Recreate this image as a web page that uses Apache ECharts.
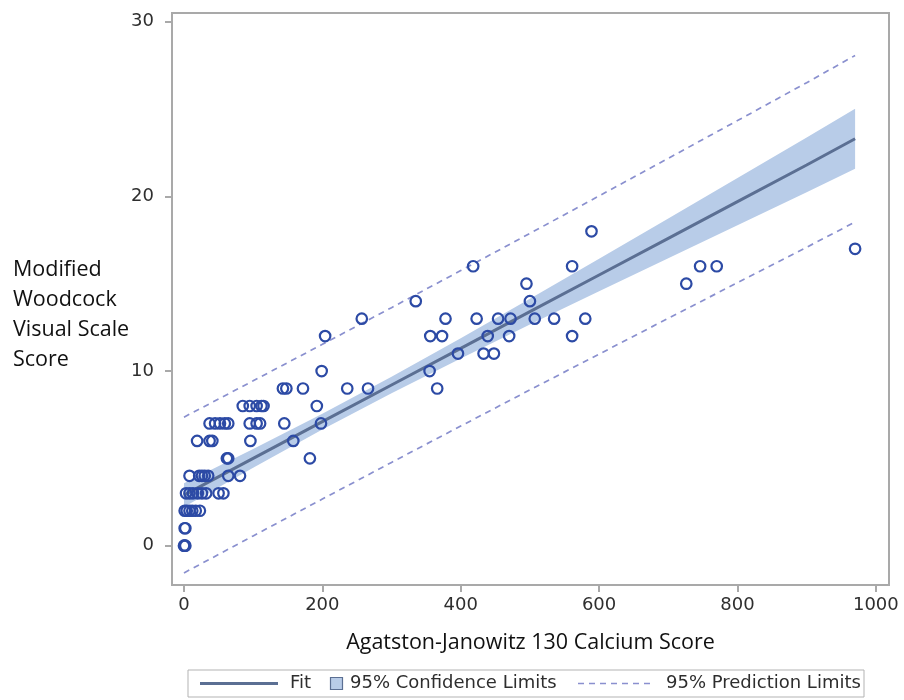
<!DOCTYPE html>
<html>
<head>
<meta charset="utf-8">
<style>html,body{margin:0;padding:0;background:#fff;}#chart{width:904px;height:700px;}</style>
<script src="https://cdn.jsdelivr.net/npm/echarts@6/dist/echarts.min.js"></script>
</head>
<body>
<div id="chart"></div>
<script>
// Observed points
const calciumScore = [
  0, 1, 2,
  1, 2,
  1, 4, 8, 12, 17, 23,
  3, 8, 13, 20, 26, 32, 50, 57,
  8, 22, 26, 30, 35, 64, 81,
  62, 64, 182,
  19, 37, 41, 96, 158,
  37, 45, 52, 59, 64, 95, 105, 110, 145, 198,
  85, 95, 105, 112, 115, 192,
  143, 148, 172, 236, 266, 366,
  199, 355,
  396, 433, 448,
  204, 356, 373, 439, 470, 561,
  257, 378, 423, 454, 472, 507, 535, 580,
  335, 500,
  495, 726,
  418, 561, 746, 770,
  970,
  589
];
const woodcockScore = [
  0, 0, 0,
  1, 1,
  2, 2, 2, 2, 2, 2,
  3, 3, 3, 3, 3, 3, 3, 3,
  4, 4, 4, 4, 4, 4, 4,
  5, 5, 5,
  6, 6, 6, 6, 6,
  7, 7, 7, 7, 7, 7, 7, 7, 7, 7,
  8, 8, 8, 8, 8, 8,
  9, 9, 9, 9, 9, 9,
  10, 10,
  11, 11, 11,
  12, 12, 12, 12, 12, 12,
  13, 13, 13, 13, 13, 13, 13, 13,
  14, 14,
  15, 15,
  16, 16, 16, 16,
  17,
  18
];

// Regression curves
const bandX   = [0, 100, 200, 300, 400, 500, 600, 700, 800, 900, 970];
const fitY    = [2.9, 5.0, 7.1, 9.2, 11.3, 13.4, 15.5, 17.6, 19.7, 21.8, 23.3];
const ciLow   = [2.22, 4.47, 6.65, 8.73, 10.72, 12.66, 14.57, 16.46, 18.35, 20.23, 21.58];
const ciHigh  = [3.58, 5.53, 7.55, 9.67, 11.88, 14.14, 16.43, 18.74, 21.05, 23.37, 25.02];
const piLow   = [-1.56, 0.56, 2.67, 4.77, 6.85, 8.92, 10.97, 13.02, 15.06, 17.09, 18.53];
const piHigh  = [7.36, 9.44, 11.53, 13.63, 15.75, 17.88, 20.03, 22.18, 24.34, 26.51, 28.07];

const xTicks = [0, 200, 400, 600, 800, 1000];
const yTicks = [0, 10, 20, 30];

const FIT_COLOR = '#5b6f93';
const BAND_COLOR = '#b8cce8';
const DASH_COLOR = '#8a90cf';
const MARK_COLOR = '#2c4aa5';
const AXIS_COLOR = '#a9a9a9';
const TICKFONT = 'DejaVu Sans';
const TITLEFONT = 'Open Sans';

const pairs = (xs, ys) => xs.map((x, i) => [x, ys[i]]);

const chart = echarts.init(document.getElementById('chart'), null, {renderer: 'canvas'});
chart.setOption({
  animation: false,
  grid: {left: 172, right: 15, top: 13, bottom: 115, show: true, borderColor: AXIS_COLOR, borderWidth: 2, backgroundColor: 'transparent'},
  xAxis: {
    type: 'value', min: -17.3, max: 1019,
    axisLine: {show: false, onZero: false},
    splitLine: {show: false},
    axisTick: {show: true, inside: false, customValues: xTicks, length: 7, lineStyle: {color: AXIS_COLOR, width: 2}},
    axisLabel: {customValues: xTicks, margin: 11, color: '#2e2e2e', fontFamily: TICKFONT, fontSize: 18, formatter: v => String(v)},
    name: 'Agatston-Janowitz 130 Calcium Score',
    nameLocation: 'middle', nameGap: 47,
    nameTextStyle: {fontFamily: TITLEFONT, fontSize: 21.5, color: '#111'}
  },
  yAxis: {
    type: 'value', min: -2.25, max: 30.5,
    axisLine: {show: false, onZero: false},
    splitLine: {show: false},
    axisTick: {show: true, inside: false, customValues: yTicks, length: 7, lineStyle: {color: AXIS_COLOR, width: 2}},
    axisLabel: {customValues: yTicks, margin: 18, color: '#2e2e2e', fontFamily: TICKFONT, fontSize: 18, formatter: v => String(v)}
  },
  series: [
    {name: '95% Confidence Limits', type: 'custom', data: [[bandX[0], fitY[0]]], silent: true, z: 1,
     renderItem: (params, api) => {
       const up = bandX.map((x, i) => api.coord([x, ciHigh[i]]));
       const low = bandX.map((x, i) => api.coord([x, ciLow[i]])).reverse();
       return {type: 'polygon', shape: {points: up.concat(low)}, style: {fill: BAND_COLOR}};
     }},
    {name: 'Fit', type: 'line', data: pairs(bandX, fitY), symbol: 'none', lineStyle: {color: FIT_COLOR, width: 3}, z: 3},
    {name: '95% Prediction Limits', type: 'line', data: pairs(bandX, piHigh), symbol: 'none',
     lineStyle: {color: DASH_COLOR, width: 1.7, type: [6, 5]}, z: 3},
    {name: '95% Prediction Limits low', type: 'line', data: pairs(bandX, piLow), symbol: 'none',
     lineStyle: {color: DASH_COLOR, width: 1.7, type: [6, 5]}, z: 3},
    {name: 'Scores', type: 'scatter', data: pairs(calciumScore, woodcockScore), symbol: 'circle', symbolSize: 10.5,
     itemStyle: {color: 'rgba(255,255,255,0)', opacity: 1, borderColor: MARK_COLOR, borderWidth: 2.2}, z: 5}
  ],
  graphic: [
    {type: 'text', left: 13, top: 255, style: {text: 'Modified\nWoodcock\nVisual Scale\nScore', fontFamily: TITLEFONT, fontSize: 21.5, lineHeight: 30, fill: '#111'}},
    {type: 'rect', shape: {x: 188, y: 670, width: 676, height: 27}, style: {fill: 'none', stroke: '#b3b3b3', lineWidth: 1}},
    {type: 'line', shape: {x1: 200, y1: 683.5, x2: 278, y2: 683.5}, style: {stroke: FIT_COLOR, lineWidth: 3}},
    {type: 'text', x: 290, y: 683.5, style: {text: 'Fit', fontFamily: TICKFONT, fontSize: 18, fill: '#2e2e2e', verticalAlign: 'middle'}},
    {type: 'rect', shape: {x: 330.5, y: 677.5, width: 12, height: 12}, style: {fill: BAND_COLOR, stroke: FIT_COLOR, lineWidth: 1.2}},
    {type: 'text', x: 350, y: 683.5, style: {text: '95% Confidence Limits', fontFamily: TICKFONT, fontSize: 18, fill: '#2e2e2e', verticalAlign: 'middle'}},
    {type: 'line', shape: {x1: 578, y1: 683.5, x2: 652, y2: 683.5}, style: {stroke: DASH_COLOR, lineWidth: 1.7, lineDash: [6, 5]}},
    {type: 'text', x: 666, y: 683.5, style: {text: '95% Prediction Limits', fontFamily: TICKFONT, fontSize: 18, fill: '#2e2e2e', verticalAlign: 'middle'}}
  ]
});
</script>
</body>
</html>
